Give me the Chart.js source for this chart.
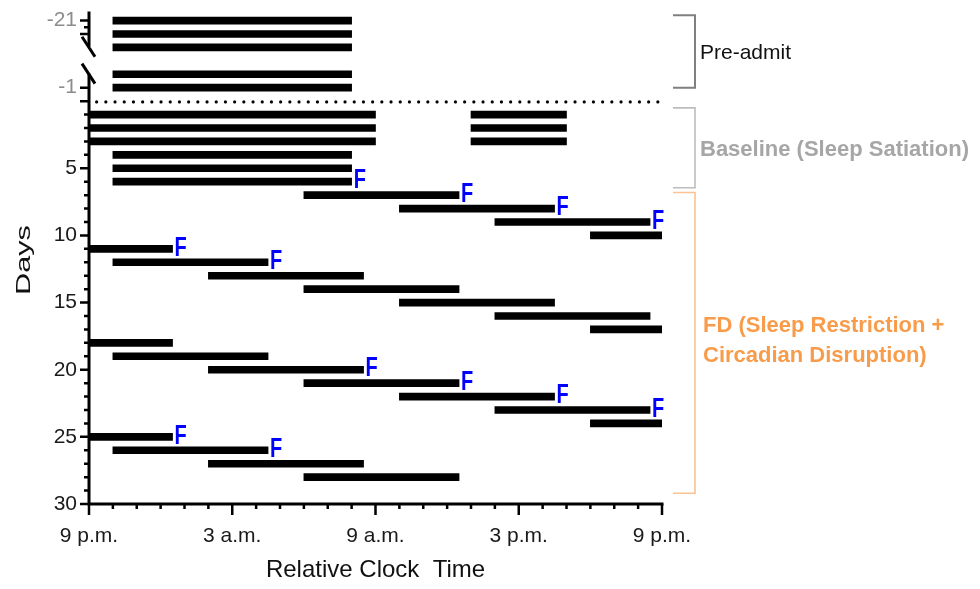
<!DOCTYPE html>
<html>
<head>
<meta charset="utf-8">
<script src="https://cdn.jsdelivr.net/npm/chart.js@4.4.1/dist/chart.umd.min.js"></script>
<style>
    html, body { margin: 0; padding: 0; background: #fff; }
</style>
</head>
<body>
<canvas id="myChart" width="980" height="589"></canvas>
<script>
// sleep episodes, in hours after 9 p.m. (0 = 9 p.m., 24 = 9 p.m. next day)
var sleepDay   = [-21, -20, -19, -2, -1, 1, 1, 2, 2, 3, 3, 4, 5, 6, 7, 8, 9, 10, 11, 12, 13, 14, 15, 16, 17, 18, 19, 20, 21, 22, 23, 24, 25, 26, 27, 28];
var sleepStart = [1, 1, 1, 1, 1, 0, 16, 0, 16, 0, 16, 1, 1, 1, 9, 13, 17, 21, 0, 1, 5, 9, 13, 17, 21, 0, 1, 5, 9, 13, 17, 21, 0, 1, 5, 9];
var sleepEnd   = [11, 11, 11, 11, 11, 12, 20, 12, 20, 12, 20, 11, 11, 11, 15.5, 19.5, 23.5, 24, 3.5, 7.5, 11.5, 15.5, 19.5, 23.5, 24, 3.5, 7.5, 11.5, 15.5, 19.5, 23.5, 24, 3.5, 7.5, 11.5, 15.5];
// days with an "F" after the sleep episode
var fDays = [6, 7, 8, 9, 11, 12, 20, 21, 22, 23, 25, 26];

var xTickHours  = [0, 6, 12, 18, 24];
var xTickLabels = ['9 p.m.', '3 a.m.', '9 a.m.', '3 p.m.', '9 p.m.'];
var yTickDays   = [-21, -1, 5, 10, 15, 20, 25, 30];

var phaseNames  = [['Pre-admit'], ['Baseline (Sleep Satiation)'], ['FD (Sleep Restriction +', 'Circadian Disruption)']];
var phaseFrom   = [-6.4, 0.5, 6.8];   // axis positions of the brackets
var phaseTo     = [-1, 6.45, 29.2];

// broken axis: the first pre-admit days sit just above the break
function dayPos(d) {
    return d <= -19 ? d + 15 : d;
}

Chart.defaults.font.family = "'Liberation Sans', Arial, sans-serif";

var decorPlugin = {
    id: 'decor',
    afterDraw: function (chart) {
        var ctx = chart.ctx;
        var xs = chart.scales.x, ys = chart.scales.y, area = chart.chartArea;
        var ax = area.left, ay = area.bottom;
        var i, v, px;
        ctx.save();

        // dotted separator
        ctx.strokeStyle = '#000';
        ctx.lineWidth = 3.2;
        ctx.lineCap = 'round';
        ctx.setLineDash([0, 9.2]);
        ctx.beginPath();
        ctx.moveTo(xs.getPixelForValue(0.32), ys.getPixelForValue(0.06));
        ctx.lineTo(xs.getPixelForValue(24), ys.getPixelForValue(0.06));
        ctx.stroke();
        ctx.setLineDash([]);

        // axis lines
        ctx.lineCap = 'butt';
        ctx.lineWidth = 3;
        var b1 = ys.getPixelForValue(-4.05), b2 = ys.getPixelForValue(-2.05);
        ctx.beginPath();
        ctx.moveTo(ax, area.top - 1);
        ctx.lineTo(ax, b1);
        ctx.moveTo(ax, b2);
        ctx.lineTo(ax, ay + 1.5);
        ctx.moveTo(ax - 1.5, ay);
        ctx.lineTo(area.right + 1.5, ay);
        ctx.stroke();
        [b1, b2].forEach(function (b) {
            ctx.beginPath();
            ctx.moveTo(ax - 7, b - 10);
            ctx.lineTo(ax + 6, b + 10);
            ctx.stroke();
        });

        // ticks
        ctx.lineWidth = 2.5;
        ctx.beginPath();
        for (v = 0; v <= 24; v++) {
            px = xs.getPixelForValue(v);
            ctx.moveTo(px, ay);
            ctx.lineTo(px, ay + (v % 6 === 0 ? 11 : 5));
        }
        var yMinor = [-5.5, -5];
        for (v = 0; v <= 30; v++) yMinor.push(v);
        yMinor.forEach(function (t) {
            var major = t % 5 === 0;
            px = ys.getPixelForValue(t);
            ctx.moveTo(ax - (major ? 9 : 5), px);
            ctx.lineTo(ax, px);
        });
        [-6, -1].forEach(function (t) {
            px = ys.getPixelForValue(t);
            ctx.moveTo(ax - 9, px);
            ctx.lineTo(ax, px);
        });
        ctx.stroke();

        // F markers
        ctx.fillStyle = '#0000ff';
        ctx.font = "bold 20px 'Liberation Sans', Arial, sans-serif";
        ctx.textAlign = 'left';
        ctx.textBaseline = 'middle';
        fDays.forEach(function (d) {
            var k = sleepDay.indexOf(d);
            var fx = xs.getPixelForValue(sleepEnd[k]) + 2;
            var fy = ys.getPixelForValue(dayPos(d)) - 1;
            ctx.save();
            ctx.translate(fx, fy);
            ctx.scale(1, 1.4);
            ctx.fillText('F', 0, 0);
            ctx.restore();
        });

        // phase brackets
        var bracketColor = ['#808080', '#bdbdbd', '#fbc393'];
        var textColor = ['#111111', '#a6a6a6', '#f89c4c'];
        var textFont = ["21px 'Liberation Sans', Arial", "bold 22px 'Liberation Sans', Arial", "bold 22px 'Liberation Sans', Arial"];
        var textX = [700, 700, 703];
        var textDy = [2, 2, -2];
        for (i = 0; i < phaseNames.length; i++) {
            var top = ys.getPixelForValue(phaseFrom[i]);
            var bot = ys.getPixelForValue(phaseTo[i]);
            ctx.strokeStyle = bracketColor[i];
            ctx.lineWidth = i === 0 ? 2 : 1.6;
            ctx.beginPath();
            ctx.moveTo(673, top);
            ctx.lineTo(695, top);
            ctx.lineTo(695, bot);
            ctx.lineTo(673, bot);
            ctx.stroke();
            ctx.fillStyle = textColor[i];
            ctx.font = textFont[i];
            var lines = phaseNames[i];
            var mid = (top + bot) / 2 + textDy[i];
            for (var j = 0; j < lines.length; j++) {
                ctx.fillText(lines[j], textX[i], mid + (j - (lines.length - 1) / 2) * 30);
            }
        }

        // y axis title
        ctx.fillStyle = '#111';
        ctx.font = "21px 'Liberation Sans', Arial, sans-serif";
        ctx.textAlign = 'center';
        ctx.translate(24, 260);
        ctx.rotate(-Math.PI / 2);
        ctx.scale(1.46, 1);
        ctx.fillText('Days', 0, 0);
        ctx.restore();
    }
};

var points = [];
for (var i = 0; i < sleepDay.length; i++) {
    points.push({ y: dayPos(sleepDay[i]), x: [sleepStart[i], sleepEnd[i]] });
}

var ctx = document.getElementById('myChart').getContext('2d');
var myChart = new Chart(ctx, {
    type: 'bar',
    data: {
        datasets: [{
            data: points,
            backgroundColor: '#000',
            barThickness: 7,
            grouped: false
        }]
    },
    options: {
        indexAxis: 'y',
        responsive: false,
        animation: false,
        layout: { padding: { left: 0, right: 318, top: 12.5, bottom: 0 } },
        plugins: {
            legend: { display: false },
            tooltip: { enabled: false }
        },
        scales: {
            x: {
                type: 'linear',
                min: 0,
                max: 24,
                afterBuildTicks: function (s) {
                    s.ticks = xTickHours.map(function (h) { return { value: h }; });
                },
                afterFit: function (s) {
                    s.height = 85;
                    s.paddingLeft = 0;
                    s.paddingRight = 0;
                },
                ticks: {
                    callback: function (v, idx) { return xTickLabels[idx]; },
                    font: { size: 21 },
                    color: '#1a1a1a',
                    padding: 20,
                    maxRotation: 0,
                    autoSkip: false
                },
                grid: { display: false, drawTicks: false },
                border: { display: false },
                title: {
                    display: true,
                    text: 'Relative Clock  Time',
                    font: { size: 24 },
                    color: '#111',
                    padding: { top: 0, bottom: 4 }
                }
            },
            y: {
                type: 'linear',
                offset: false,
                min: -6.6,
                max: 30,
                reverse: true,
                afterBuildTicks: function (s) {
                    s.ticks = yTickDays.map(function (d) { return { value: dayPos(d) }; });
                },
                afterFit: function (s) {
                    s.width = 89;
                    s.paddingTop = 0;
                    s.paddingBottom = 0;
                },
                ticks: {
                    callback: function (v, idx) { return String(yTickDays[idx]); },
                    color: function (c) { return c.tick.value < 0 ? '#8c8c8c' : '#1a1a1a'; },
                    font: { size: 21 },
                    padding: 12,
                    autoSkip: false
                },
                grid: { display: false, drawTicks: false },
                border: { display: false }
            }
        }
    },
    plugins: [decorPlugin]
});
</script>
</body>
</html>
